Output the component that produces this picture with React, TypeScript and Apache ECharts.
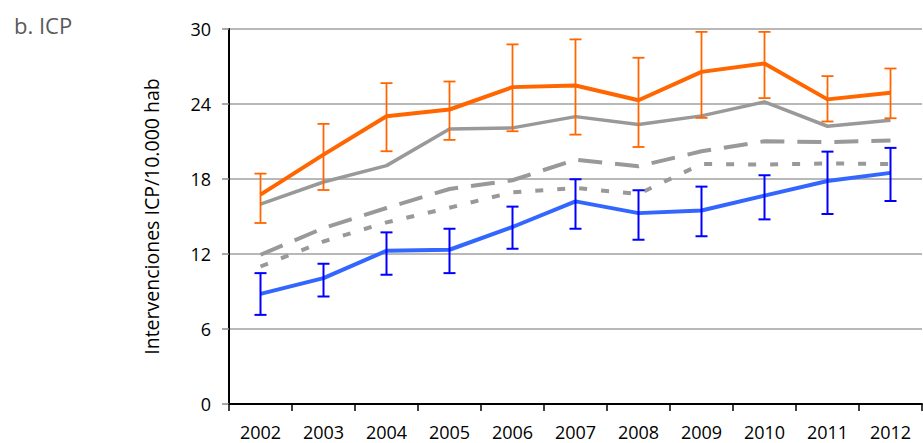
import React, { useEffect, useRef } from "react";
import * as echarts from "echarts";

// Years on the horizontal axis
const years = ["2002", "2003", "2004", "2005", "2006", "2007", "2008", "2009", "2010", "2011", "2012"];
const yTicks = [0, 6, 12, 18, 24, 30];

// Highest rate (orange) with its interval
const orange = [16.75, 19.95, 23.02, 23.56, 25.35, 25.48, 24.3, 26.57, 27.24, 24.37, 24.9];
const orangeLow = [14.48, 17.12, 20.22, 21.13, 21.82, 21.55, 20.56, 22.89, 24.47, 22.6, 22.86];
const orangeHigh = [18.43, 22.41, 25.67, 25.8, 28.77, 29.17, 27.7, 29.77, 29.77, 26.23, 26.84];

// Grey reference lines
const graySolid = [15.99, 17.76, 19.07, 22.0, 22.09, 22.99, 22.36, 23.05, 24.17, 22.22, 22.7];
const grayDashed = [11.94, 14.07, 15.68, 17.2, 17.9, 19.55, 19.02, 20.22, 21.02, 20.95, 21.08];
const grayDotted = [11.0, 13.0, 14.53, 15.7, 16.94, 17.28, 16.8, 19.2, 19.15, 19.25, 19.2];

// Lowest rate (blue) with its interval
const blue = [8.81, 10.07, 12.26, 12.34, 14.16, 16.21, 15.27, 15.48, 16.67, 17.84, 18.49];
const blueLow = [7.13, 8.6, 10.34, 10.47, 12.42, 14.02, 13.14, 13.42, 14.77, 15.2, 16.24];
const blueHigh = [10.47, 11.22, 13.73, 14.02, 15.79, 17.98, 17.1, 17.39, 18.3, 20.19, 20.49];

const FONT = "'Open Sans', 'Noto Sans', sans-serif";

function errorBars(low: number[], high: number[], color: string, width: number) {
  return {
    type: "custom",
    z: 5,
    data: low.map((l, i) => [i, l, high[i]]),
    renderItem: (_params: any, api: any) => {
      const lo = api.coord([api.value(0), api.value(1)]);
      const hi = api.coord([api.value(0), api.value(2)]);
      const half = 6;
      const style = { stroke: color, lineWidth: width, fill: "none" };
      return {
        type: "group",
        children: [
          { type: "line", shape: { x1: lo[0], y1: lo[1], x2: hi[0], y2: hi[1] }, style },
          { type: "line", shape: { x1: lo[0] - half, y1: lo[1], x2: lo[0] + half, y2: lo[1] }, style },
          { type: "line", shape: { x1: hi[0] - half, y1: hi[1], x2: hi[0] + half, y2: hi[1] }, style },
        ],
      };
    },
  };
}

function lineSeries(data: number[], color: string, width: number, type: any, z: number) {
  return {
    type: "line",
    data,
    z,
    symbol: "none",
    lineStyle: { color, width, type, cap: "butt", join: "round" },
  };
}

export default function App() {
  const ref = useRef<HTMLDivElement>(null);

  useEffect(() => {
    if (!ref.current) return;
    const chart = echarts.init(ref.current, undefined, { renderer: "svg" });
    chart.setOption({
      animation: false,
      backgroundColor: "#ffffff",
      title: {
        text: "b. ICP",
        left: 9,
        top: 9,
        textStyle: { fontFamily: FONT, fontSize: 22, fontWeight: "normal", color: "#595959" },
      },
      grid: { left: 229, right: 1, top: 29, bottom: 39, containLabel: false },
      xAxis: {
        type: "category",
        data: years,
        boundaryGap: true,
        axisLine: { lineStyle: { color: "#000000", width: 2 } },
        axisTick: { show: true, length: 7, lineStyle: { color: "#000000", width: 1.5 } },
        axisLabel: { fontFamily: FONT, fontSize: 18, lineHeight: 18, color: "#000000", margin: 19 },
        splitLine: { show: false },
      },
      yAxis: {
        type: "value",
        min: yTicks[0],
        max: yTicks[yTicks.length - 1],
        interval: 6,
        name: "Intervenciones ICP/10.000 hab",
        nameLocation: "middle",
        nameGap: 68,
        nameRotate: 90,
        nameTextStyle: { fontFamily: FONT, fontSize: 19.5, color: "#000000" },
        axisLine: { show: true, lineStyle: { color: "#000000", width: 2 } },
        axisTick: { show: true, length: 7, lineStyle: { color: "#8c8c8c", width: 1.5 } },
        axisLabel: { fontFamily: FONT, fontSize: 18, color: "#000000", margin: 18 },
        splitLine: { show: true, lineStyle: { color: "#a0a0a0", width: 1.5 } },
      },
      series: [
        lineSeries(grayDotted, "#999999", 4, [8, 14], 2),
        lineSeries(grayDashed, "#999999", 4, [24, 13], 2),
        lineSeries(graySolid, "#999999", 3.5, "solid", 2),
        lineSeries(blue, "#3366ff", 4, "solid", 3),
        errorBars(blueLow, blueHigh, "#0000ff", 2),
        lineSeries(orange, "#ff6600", 4, "solid", 3),
        errorBars(orangeLow, orangeHigh, "#ff6600", 1.8),
      ],
    });
    return () => chart.dispose();
  }, []);

  return (
    <div
      ref={ref}
      style={{ position: "fixed", left: 0, top: 0, width: 923, height: 443, background: "#fff" }}
    />
  );
}
